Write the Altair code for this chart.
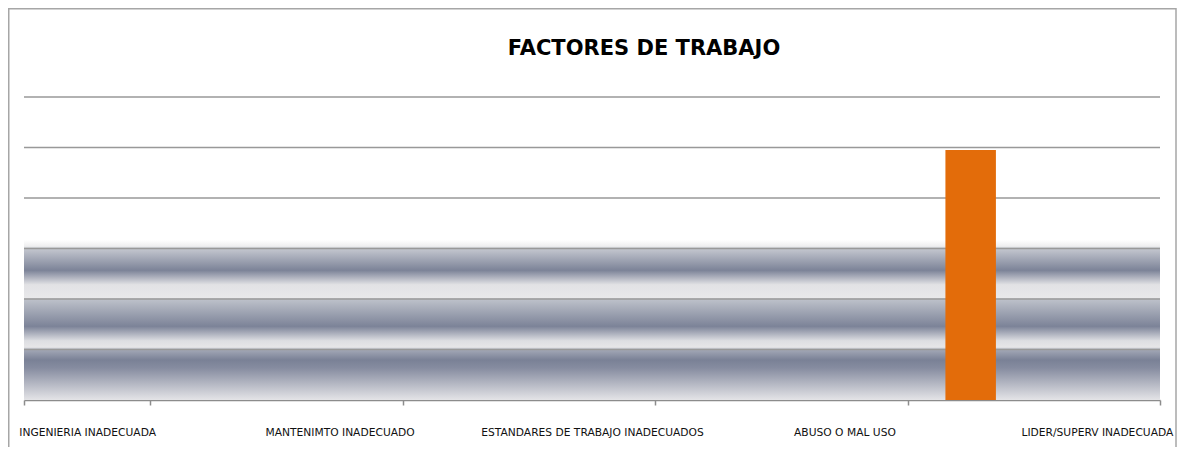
import json
import altair as alt
import pandas as pd

# ---- data ----
categories = [
    "INGENIERIA INADECUADA",
    "ADQUISICIONES INADECUADAS",
    "MANTENIMTO INADECUADO",
    "HERRAMIENTAS INADECUADAS",
    "ESTANDARES DE TRABAJO INADECUADOS",
    "USO Y DESGASTE",
    "ABUSO O MAL USO",
    "OTROS",
    "LIDER/SUPERV INADECUADA",
]
values = [0, 0, 0, 0, 0, 0, 0, 4.95, 0]
shown_labels = [
    "INGENIERIA INADECUADA",
    "MANTENIMTO INADECUADO",
    "ESTANDARES DE TRABAJO INADECUADOS",
    "ABUSO O MAL USO",
    "LIDER/SUPERV INADECUADA",
]
grid_values = [1, 2, 3, 4, 5, 6]
y_max = 6
band_top = [3.17]   # top of the striped background band (axis units)
band_bottom = [0]

W, H = 1136, 303

df = pd.DataFrame({"factor": categories, "valor": values})
grid_df = pd.DataFrame({"v": grid_values})
band_df = pd.DataFrame({"top": band_top, "bottom": band_bottom})
shown_js = json.dumps(shown_labels)

y_scale = alt.Scale(domain=[0, y_max], nice=False, zero=True)

x_enc = alt.X(
    "factor:N",
    sort=categories,
    scale=alt.Scale(paddingInner=0, paddingOuter=0),
    axis=alt.Axis(
        title=None,
        labelAngle=0,
        labelExpr=f"indexof({shown_js}, datum.value) >= 0 ? datum.label : ''",
        labelFont="DejaVu Sans",
        labelFontSize=10.7,
        labelColor="#111111",
        labelPadding=22,
        labelOverlap=False,
        labelLimit=400,
        tickBand="extent",
        tickSize=5,
        tickColor="#8c8c8c",
        tickWidth=1.5,
        tickOpacity={
            "condition": {
                "test": f"!isValid(datum.value) || indexof({shown_js}, datum.value) >= 0",
                "value": 1,
            },
            "value": 0,
        },
        domainColor="#8c8c8c",
        domainWidth=1.5,
        grid=False,
    ),
)

frame = alt.Chart(band_df).mark_rect(
    fill="transparent", stroke="#a6a6a6", strokeWidth=1.5
).encode(
    x=alt.value(-15.25), x2=alt.value(1152), y=alt.value(-88.25), y2=alt.value(420)
)

stripes = alt.Gradient(
    gradient="linear",
    x1=0, x2=0, y1=0, y2=1,
    stops=[
        alt.GradientStop(offset=0.00, color="#ffffff"),
        alt.GradientStop(offset=0.04, color="#eeeeef"),
        alt.GradientStop(offset=0.055, color="#c4c7cf"),
        alt.GradientStop(offset=0.19, color="#7c8398"),
        alt.GradientStop(offset=0.28, color="#e2e2e5"),
        alt.GradientStop(offset=0.36, color="#e8e8ea"),
        alt.GradientStop(offset=0.375, color="#bcc0c9"),
        alt.GradientStop(offset=0.54, color="#7c8398"),
        alt.GradientStop(offset=0.63, color="#dddee2"),
        alt.GradientStop(offset=0.67, color="#e6e6e8"),
        alt.GradientStop(offset=0.69, color="#a0a5b4"),
        alt.GradientStop(offset=0.75, color="#7a8196"),
        alt.GradientStop(offset=0.80, color="#868ca0"),
        alt.GradientStop(offset=1.00, color="#e4e4e7"),
    ],
)

band = alt.Chart(band_df).mark_rect(color=stripes).encode(
    x=alt.value(0), x2=alt.value(W),
    y=alt.Y("top:Q", scale=y_scale, axis=None), y2="bottom:Q",
)

grid = alt.Chart(grid_df).mark_rule(color="#999999", strokeWidth=1.6).encode(
    y=alt.Y("v:Q", scale=y_scale, axis=None)
)

bars = alt.Chart(df).mark_bar(
    color="#e36c0a", width=alt.RelativeBandSize(0.4)
).encode(
    x=x_enc,
    y=alt.Y("valor:Q", scale=y_scale, axis=None),
)

chart = alt.layer(frame, band, grid, bars).properties(
    width=W,
    height=H,
    autosize=alt.AutoSizeParams(type="none"),
    padding={"left": 16, "top": 89, "right": 17, "bottom": 47},
    title=alt.TitleParams(
        "FACTORES DE TRABAJO",
        font="DejaVu Sans",
        fontSize=21,
        fontWeight="bold",
        color="#000000",
        anchor="middle",
        baseline="alphabetic",
        dx=52,
        dy=68,
        offset=0,
    ),
).configure_view(stroke=None)

chart.save("out.html", embed_options={"renderer": "svg", "actions": False})
